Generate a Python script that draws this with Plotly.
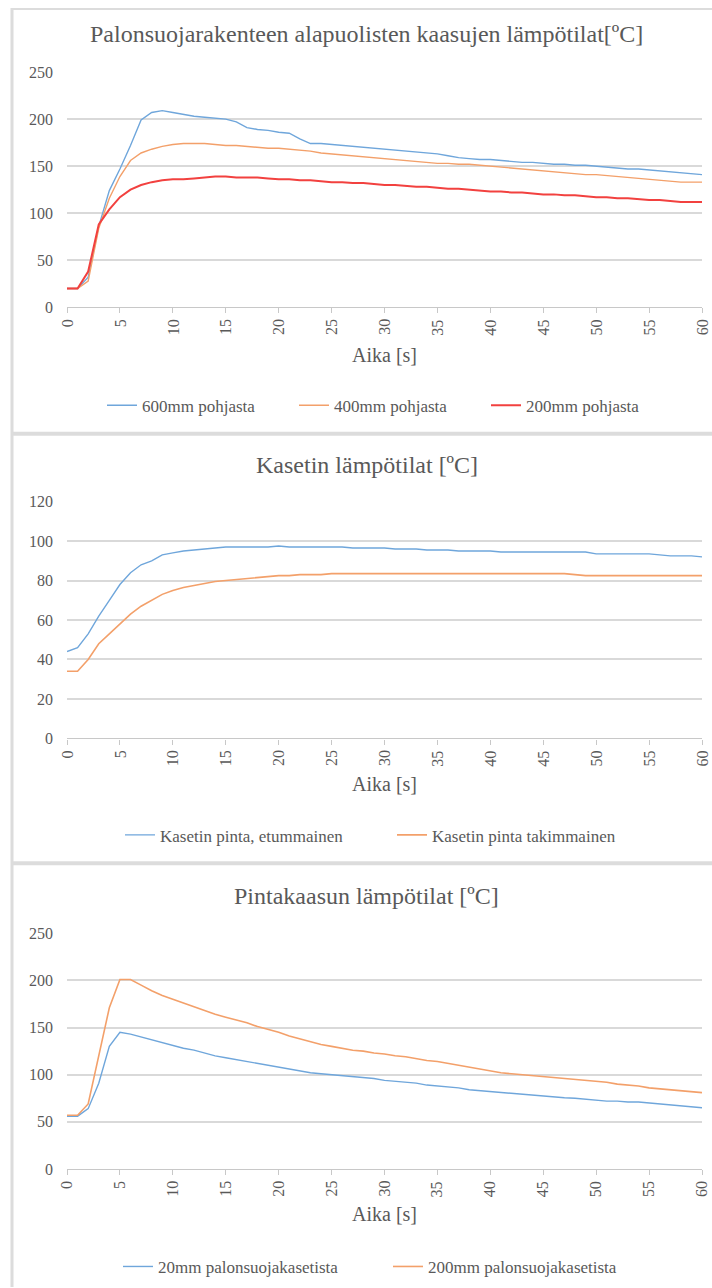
import plotly.graph_objects as go

# Time axis (seconds)
aika = list(range(61))

# Gas temperatures below the fire protection structure [°C]
t_600mm = [20, 20, 32, 86, 124, 147, 172, 199, 207, 209,
           207, 205, 203, 202, 201, 200, 197, 191, 189, 188,
           186, 185, 179, 174, 174, 173, 172, 171, 170, 169,
           168, 167, 166, 165, 164, 163, 161, 159, 158, 157,
           157, 156, 155, 154, 154, 153, 152, 152, 151, 151,
           150, 149, 148, 147, 147, 146, 145, 144, 143, 142, 141]
t_400mm = [20, 20, 28, 84, 116, 139, 156, 164, 168, 171,
           173, 174, 174, 174, 173, 172, 172, 171, 170, 169,
           169, 168, 167, 166, 164, 163, 162, 161, 160, 159,
           158, 157, 156, 155, 154, 153, 153, 152, 152, 151,
           150, 149, 148, 147, 146, 145, 144, 143, 142, 141,
           141, 140, 139, 138, 137, 136, 135, 134, 133, 133, 133]
t_200mm = [20, 20, 38, 88, 104, 117, 125, 130, 133, 135,
           136, 136, 137, 138, 139, 139, 138, 138, 138, 137,
           136, 136, 135, 135, 134, 133, 133, 132, 132, 131,
           130, 130, 129, 128, 128, 127, 126, 126, 125, 124,
           123, 123, 122, 122, 121, 120, 120, 119, 119, 118,
           117, 117, 116, 116, 115, 114, 114, 113, 112, 112, 112]

# Cassette surface temperatures [°C]
kasetti_etu = [44, 46, 53, 62, 70, 78, 84, 88, 90, 93,
               94, 95, 95.5, 96, 96.5, 97, 97, 97, 97, 97,
               97.5, 97, 97, 97, 97, 97, 97, 96.5, 96.5, 96.5,
               96.5, 96, 96, 96, 95.5, 95.5, 95.5, 95, 95, 95,
               95, 94.5, 94.5, 94.5, 94.5, 94.5, 94.5, 94.5, 94.5, 94.5,
               93.5, 93.5, 93.5, 93.5, 93.5, 93.5, 93, 92.5, 92.5, 92.5, 92]
kasetti_taka = [34, 34, 40, 48, 53, 58, 63, 67, 70, 73,
                75, 76.5, 77.5, 78.5, 79.5, 80, 80.5, 81, 81.5, 82,
                82.5, 82.5, 83, 83, 83, 83.5, 83.5, 83.5, 83.5, 83.5,
                83.5, 83.5, 83.5, 83.5, 83.5, 83.5, 83.5, 83.5, 83.5, 83.5,
                83.5, 83.5, 83.5, 83.5, 83.5, 83.5, 83.5, 83.5, 83, 82.5,
                82.5, 82.5, 82.5, 82.5, 82.5, 82.5, 82.5, 82.5, 82.5, 82.5, 82.5]

# Surface gas temperatures [°C]
pinta_20mm = [56, 56, 64, 91, 130, 145, 143, 140, 137, 134,
              131, 128, 126, 123, 120, 118, 116, 114, 112, 110,
              108, 106, 104, 102, 101, 100, 99, 98, 97, 96,
              94, 93, 92, 91, 89, 88, 87, 86, 84, 83,
              82, 81, 80, 79, 78, 77, 76, 75.5, 75, 74,
              73, 72, 72, 71, 71, 70, 69, 68, 67, 66, 65]
pinta_200mm = [57, 57, 69, 120, 171, 201, 201, 195, 189, 184,
               180, 176, 172, 168, 164, 161, 158, 155, 151, 148,
               145, 141, 138, 135, 132, 130, 128, 126, 125, 123,
               122, 120, 119, 117, 115, 114, 112, 110, 108, 106,
               104, 102, 101, 100, 99, 98, 97, 96, 95, 94,
               93, 92, 90, 89, 88, 86, 85, 84, 83, 82, 81]

otsikot = ["Palonsuojarakenteen alapuolisten kaasujen lämpötilat[ºC]",
           "Kasetin lämpötilat [ºC]",
           "Pintakaasun lämpötilat [ºC]"]
x_otsikko = "Aika [s]"
x_ticks = list(range(0, 61, 5))

W, H = 712, 1288
# The page adds an 8px body margin above and below the figure and the page
# is fitted to the window height, so vertical positions given in window
# pixels are converted back to figure pixels.
MARGIN = 8
SY = H / (H + 2 * MARGIN)
FONT = "Liberation Serif, Times New Roman, serif"
TXT = "#595959"
GRID = "#d9d9d9"
BLUE = "#6fa6db"
ORANGE = "#f3a06a"
RED = "#f2413f"


def pxx(px):
    """Window column to paper fraction."""
    return px / W


def py(px):
    """Window row (from top) to paper fraction."""
    return 1 - (px / SY - MARGIN) / H


panels = [
    dict(y0=307.5, y1=72, ymax=250, dtick=50, ty=34, ay=355, ly=406),
    dict(y0=739, y1=502, ymax=120, dtick=20, ty=465, ay=785, ly=836),
    dict(y0=1170, y1=934, ymax=250, dtick=50, ty=897, ay=1215, ly=1268),
]
plot_left, plot_right = 67, 702

series = [
    [("600mm pohjasta", t_600mm, BLUE, 1.4),
     ("400mm pohjasta", t_400mm, ORANGE, 1.4),
     ("200mm pohjasta", t_200mm, RED, 2.0)],
    [("Kasetin pinta, etummainen", kasetti_etu, BLUE, 1.4),
     ("Kasetin pinta takimmainen", kasetti_taka, ORANGE, 1.6)],
    [("20mm palonsuojakasetista", pinta_20mm, BLUE, 1.4),
     ("200mm palonsuojakasetista", pinta_200mm, ORANGE, 1.6)],
]
# legend text start (px) and distance between entries
legend_text_x = [142, 160, 158]
legend_step = [192, 272, 270]

fig = go.Figure()
layout = dict(
    width=W, height=H, autosize=False,
    margin=dict(l=0, r=0, t=0, b=0, pad=0),
    paper_bgcolor="white", plot_bgcolor="white",
    font=dict(family=FONT, color=TXT),
    annotations=[], shapes=[],
)

for i, (p, sers) in enumerate(zip(panels, series)):
    n = "" if i == 0 else str(i + 1)
    xa, ya = "x" + n, "y" + n
    leg = "legend" + n
    for name, vals, col, w in sers:
        fig.add_trace(go.Scatter(
            x=aika, y=vals, name=name, mode="lines",
            line=dict(color=col, width=w),
            xaxis=xa, yaxis=ya, legend=leg,
        ))
    layout["xaxis" + n] = dict(
        domain=[pxx(plot_left), pxx(plot_right)],
        anchor=ya, range=[0, 60],
        tickmode="array", tickvals=x_ticks,
        showticklabels=False,
        showgrid=False, zeroline=False,
        showline=True, linecolor="#c8c8c8", linewidth=1.3,
        ticks="outside", ticklen=5, tickcolor="#c8c8c8", tickwidth=1.3,
        fixedrange=True,
    )
    layout["yaxis" + n] = dict(
        domain=[py(p["y0"]), py(p["y1"])],
        anchor=xa, range=[0, p["ymax"]], dtick=p["dtick"],
        tickfont=dict(family=FONT, size=16, color=TXT),
        showgrid=True, gridcolor=GRID, gridwidth=1.6,
        zeroline=False, showline=False, ticks="",
        ticklabelstandoff=13,
        fixedrange=True,
    )
    layout[leg] = dict(
        orientation="h",
        x=(legend_text_x[i] - 40) / W, xanchor="left",
        y=py(p["ly"]), yanchor="middle",
        font=dict(family=FONT, size=17, color=TXT),
        bgcolor="rgba(0,0,0,0)",
        entrywidth=legend_step[i] - 45, entrywidthmode="pixels",
        traceorder="normal",
    )
    # chart title
    layout["annotations"].append(dict(
        text=otsikot[i], x=pxx(366.5), y=py(p["ty"]),
        xref="paper", yref="paper", xanchor="center", yanchor="middle",
        showarrow=False, font=dict(family=FONT, size=24, color=TXT),
    ))
    # rotated time tick labels, placed on the axis scale
    for t in x_ticks:
        layout["annotations"].append(dict(
            text=str(t), x=t, xref=xa, y=py(p["y0"] + 10), yref="paper",
            xanchor="center", yanchor="top", textangle=-90,
            showarrow=False, font=dict(family=FONT, size=16, color=TXT),
        ))
    # axis title
    layout["annotations"].append(dict(
        text=x_otsikko, x=30, xref=xa, y=py(p["ay"]), yref="paper",
        xanchor="center", yanchor="middle",
        showarrow=False, font=dict(family=FONT, size=20, color=TXT),
    ))

# panel frames
for (x0, y0, x1, y1, w) in [(12, 8, 12, 1288, 3), (12, 9, 712, 9, 2),
                            (12, 434, 712, 434, 4), (12, 864, 712, 864, 4)]:
    layout["shapes"].append(dict(
        type="line", xref="paper", yref="paper", layer="below",
        x0=pxx(x0), x1=pxx(x1), y0=py(y0), y1=py(y1),
        line=dict(color="#dcdcdc", width=w),
    ))

fig.update_layout(**layout)
fig.write_html("out.html")
